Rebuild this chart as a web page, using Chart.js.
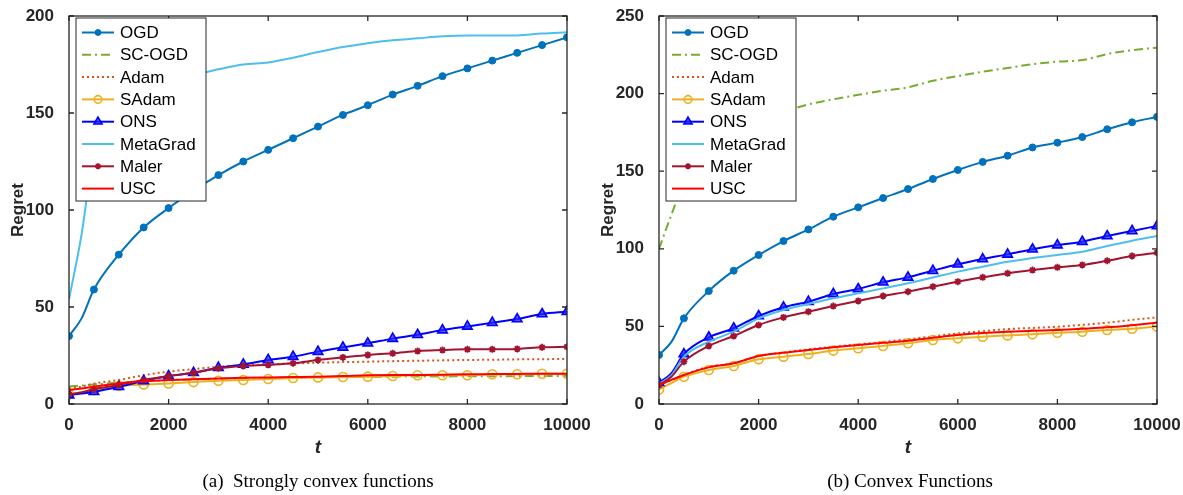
<!DOCTYPE html>
<html>
<head>
<meta charset="utf-8">
<script src="https://cdn.jsdelivr.net/npm/chart.js@4.4.1/dist/chart.umd.min.js"></script>
<style>
  body { margin: 0; background: #fff; width: 1183px; height: 495px; position: relative; overflow: hidden; }
  .box { position: absolute; top: 0; height: 495px; }
  .cap { position: absolute; top: 470px; font-family: "Liberation Serif", "Times New Roman", serif; font-size: 19px; color: #000; transform: translateX(-50%); white-space: nowrap; }
</style>
</head>
<body>
<div class="box" style="left:0;width:590px"><canvas id="c1" width="590" height="495"></canvas></div>
<div class="box" style="left:590px;width:593px"><canvas id="c2" width="593" height="495"></canvas></div>
<div class="cap" style="left:318px">(a)&nbsp; Strongly convex functions</div>
<div class="cap" style="left:910px">(b) Convex Functions</div>
<script>
// iterations sampled from the figure
const T = [0, 250, 500, 1000, 1500, 2000, 2500, 3000, 3500, 4000, 4500, 5000,
           5500, 6000, 6500, 7000, 7500, 8000, 8500, 9000, 9500, 10000];

const names = ['OGD', 'SC-OGD', 'Adam', 'SAdam', 'ONS', 'MetaGrad', 'Maler', 'USC'];

// (a) strongly convex
const ogdA      = [35, 44, 59, 77, 91, 101, 110, 118, 125, 131, 137, 143, 149, 154, 159.5, 164, 169, 173, 177, 181, 185, 189];
const scogdA    = [9, 9.5, 10, 11, 11.8, 12.3, 12.7, 13, 13.2, 13.4, 13.6, 13.8, 13.9, 14, 14.1, 14.2, 14.2, 14.3, 14.3, 14.4, 14.4, 14.5];
const adamA     = [8, 9, 10.5, 12.4, 14.8, 16.7, 18, 19.2, 19.9, 20.4, 20.9, 21.3, 21.6, 21.8, 22.1, 22.3, 22.5, 22.7, 22.8, 23, 23.1, 23.2];
const sadamA    = [5, 6, 7.2, 9.3, 10.1, 10.6, 11.3, 12, 12.4, 12.9, 13.4, 13.7, 13.9, 14.1, 14.4, 14.8, 14.8, 14.8, 15.3, 15.3, 15.6, 15.6];
const onsA      = [4.6, 5.4, 6.3, 8.9, 11.9, 14.4, 16.1, 18.7, 20.4, 22.7, 24.4, 27, 29.2, 31.3, 33.7, 35.7, 38.1, 40, 41.9, 43.8, 46.4, 47.6];
const metagradA = [54, 87, 130, 150, 160, 165, 169.5, 172.5, 175, 176, 178.5, 181.4, 184, 186, 187.5, 188.5, 189.5, 190, 190, 190, 191, 191.6];
const malerA    = [5, 6, 7.6, 9.8, 12.4, 14.4, 16.1, 18.4, 19.6, 20.2, 21, 22.7, 24, 25.3, 26.1, 27.3, 27.8, 28.2, 28.2, 28.4, 29.2, 29.5];
const uscA      = [7.2, 8, 8.9, 10.6, 11.7, 12.4, 12.8, 13.2, 13.5, 13.7, 13.9, 14.1, 14.4, 14.8, 14.9, 14.9, 15.1, 15.3, 15.4, 15.5, 15.6, 15.6];

// (b) convex
const ogdB      = [31.6, 40, 55.2, 72.8, 85.9, 96, 105, 112.5, 120.7, 126.7, 132.7, 138.5, 145, 150.8, 156, 160, 165.3, 168.4, 172, 177, 181.5, 185];
const scogdB    = [100, 122, 142, 160, 172, 181, 188, 193, 196.3, 199.2, 201.9, 204, 208.3, 211.3, 214.1, 216.5, 218.9, 220.6, 221.6, 225.5, 228, 229.6];
const adamB     = [12.2, 15.5, 18.7, 24, 26.2, 30.9, 33.2, 35.2, 36.9, 38.4, 40, 41.7, 43.6, 45.5, 46.9, 48.3, 49, 49.8, 51, 52.4, 54.2, 55.8];
const sadamB    = [9.4, 13.5, 17.6, 21.9, 24.5, 28.8, 30.5, 32.2, 34.4, 35.9, 37.4, 39.1, 41.2, 42.3, 43.4, 44.2, 44.9, 45.9, 46.6, 47.7, 48.5, 50];
const onsB      = [13.7, 19.8, 32.2, 43, 48.8, 56.7, 62.3, 65.9, 70.9, 74.1, 78.4, 81.6, 85.9, 90, 93.4, 96.4, 99.7, 102.4, 104.6, 108.2, 111.5, 114.7];
const metagradB = [13, 18.5, 30.5, 40.1, 46.6, 55.2, 60.6, 64.4, 68.1, 71.3, 74.5, 77.8, 81.5, 85.3, 88.5, 91.7, 94, 96, 98.1, 101.8, 105.2, 108.2];
const malerB    = [12.2, 17.6, 27.3, 37.4, 43.8, 50.9, 55.8, 59.5, 63.1, 66.4, 69.6, 72.4, 75.6, 78.8, 81.6, 84.2, 86.3, 88.1, 89.6, 92.3, 95.4, 97.5];
const uscB      = [12.2, 15.5, 18.7, 23.6, 26.2, 30.9, 33, 34.8, 36.5, 38, 39.4, 40.8, 42.7, 44.5, 45.7, 46.6, 47.2, 47.7, 48.5, 49.4, 50.8, 52.4];

const xTicks = [0, 2000, 4000, 6000, 8000, 10000];

// line / marker look per method
const styles = [
  { color: '#0072BD', dash: [],           marker: 'circle',   r: 3.5, fill: '#0072BD', bw: 1 },
  { color: '#77AC30', dash: [9, 4, 2, 4], marker: null },
  { color: '#D95319', dash: [2, 3],       marker: null },
  { color: '#EDB120', dash: [],           marker: 'circle',   r: 4.5, fill: 'rgba(255,255,255,0)', bw: 1.6 },
  { color: '#0000FF', dash: [],           marker: 'triangle', r: 5.5, fill: 'rgba(40,40,255,0.75)', bw: 1.6 },
  { color: '#4DBEEE', dash: [],           marker: null },
  { color: '#A2142F', dash: [],           marker: 'star',     r: 3.5, fill: '#A2142F', bw: 1.8 },
  { color: '#FF0000', dash: [],           marker: null }
];

Chart.defaults.font.family = '"Liberation Sans", Arial, Helvetica, sans-serif';
Chart.defaults.color = '#262626';

const frame = {
  id: 'frame',
  afterDatasetsDraw(chart) {
    const { ctx, chartArea: a, scales: { x, y } } = chart;
    ctx.save();
    ctx.strokeStyle = '#262626';
    ctx.lineWidth = 1.3;
    ctx.setLineDash([]);
    ctx.strokeRect(a.left, a.top, a.width, a.height);
    ctx.beginPath();
    x.ticks.forEach(t => {
      const px = x.getPixelForValue(t.value);
      ctx.moveTo(px, a.bottom); ctx.lineTo(px, a.bottom - 5);
      ctx.moveTo(px, a.top); ctx.lineTo(px, a.top + 5);
    });
    y.ticks.forEach(t => {
      const py = y.getPixelForValue(t.value);
      ctx.moveTo(a.left, py); ctx.lineTo(a.left + 5, py);
      ctx.moveTo(a.right, py); ctx.lineTo(a.right - 5, py);
    });
    ctx.stroke();
    ctx.restore();
  }
};

const boxLegend = {
  id: 'boxLegend',
  afterDraw(chart) {
    const { ctx, chartArea: a } = chart;
    const bx = a.left + 7, by = a.top + 2, bw = 130, bh = 183;
    ctx.save();
    ctx.fillStyle = '#fff';
    ctx.fillRect(bx, by, bw, bh);
    ctx.strokeStyle = '#262626';
    ctx.lineWidth = 1;
    ctx.strokeRect(bx, by, bw, bh);
    ctx.font = '17px "Liberation Sans", Arial, sans-serif';
    ctx.textBaseline = 'middle';
    chart.data.datasets.forEach((ds, i) => {
      const s = styles[i];
      const yy = by + 14.5 + i * 22.3;
      ctx.strokeStyle = s.color;
      ctx.lineWidth = 2;
      ctx.setLineDash(s.dash);
      ctx.beginPath();
      ctx.moveTo(bx + 6, yy); ctx.lineTo(bx + 38, yy);
      ctx.stroke();
      ctx.setLineDash([]);
      if (s.marker) {
        ctx.fillStyle = s.fill;
        ctx.lineWidth = s.bw;
        Chart.helpers.drawPoint(ctx, { pointStyle: s.marker, radius: s.r * 0.85, rotation: 0, borderWidth: s.bw }, bx + 22, yy);
      }
      ctx.fillStyle = '#000';
      ctx.fillText(ds.label, bx + 44, yy + 1);
    });
    ctx.restore();
  }
};

function makeChart(id, series, yMax, rightPad) {
  const datasets = series.map((vals, i) => {
    const s = styles[i];
    return {
      label: names[i],
      data: vals.map((v, k) => ({ x: T[k], y: v })),
      borderColor: s.color,
      backgroundColor: s.color,
      borderWidth: 2,
      borderDash: s.dash,
      cubicInterpolationMode: 'monotone',
      pointStyle: s.marker || 'circle',
      pointRadius: ctx => (s.marker && T[ctx.dataIndex] % 500 === 0) ? s.r : 0,
      pointBackgroundColor: s.fill || s.color,
      pointBorderColor: s.color,
      pointBorderWidth: s.bw || 1,
      order: 10 - i
    };
  });
  return new Chart(document.getElementById(id), {
    type: 'line',
    data: { datasets },
    options: {
      responsive: false,
      animation: false,
      devicePixelRatio: 1,
      layout: { padding: { top: 16, right: rightPad, left: 0, bottom: 0 } },
      plugins: { legend: { display: false }, tooltip: { enabled: false } },
      scales: {
        x: {
          type: 'linear', min: 0, max: 10000,
          afterFit: sc => { sc.height = 91; sc.paddingLeft = 0; sc.paddingRight = 0; },
          afterBuildTicks: sc => { sc.ticks = xTicks.map(v => ({ value: v })); },
          grid: { display: false },
          border: { display: false },
          ticks: { font: { size: 17, weight: 'bold' }, padding: 3, maxRotation: 0, autoSkip: false,
                   callback: v => String(v) },
          title: { display: true, text: 't', font: { size: 19, weight: 'bold', style: 'italic' }, padding: { top: 0, bottom: 36 } }
        },
        y: {
          min: 0, max: yMax,
          afterFit: sc => { sc.width = 69; sc.paddingTop = 0; sc.paddingBottom = 0; },
          grid: { display: false },
          border: { display: false },
          ticks: { stepSize: 50, font: { size: 17, weight: 'bold' }, padding: 7, callback: v => String(v) },
          title: { display: true, text: 'Regret', font: { size: 17, weight: 'bold' }, padding: { top: 8, bottom: 0 } }
        }
      }
    },
    plugins: [frame, boxLegend]
  });
}

makeChart('c1', [ogdA, scogdA, adamA, sadamA, onsA, metagradA, malerA, uscA], 200, 23);
makeChart('c2', [ogdB, scogdB, adamB, sadamB, onsB, metagradB, malerB, uscB], 250, 26);
</script>
</body>
</html>
